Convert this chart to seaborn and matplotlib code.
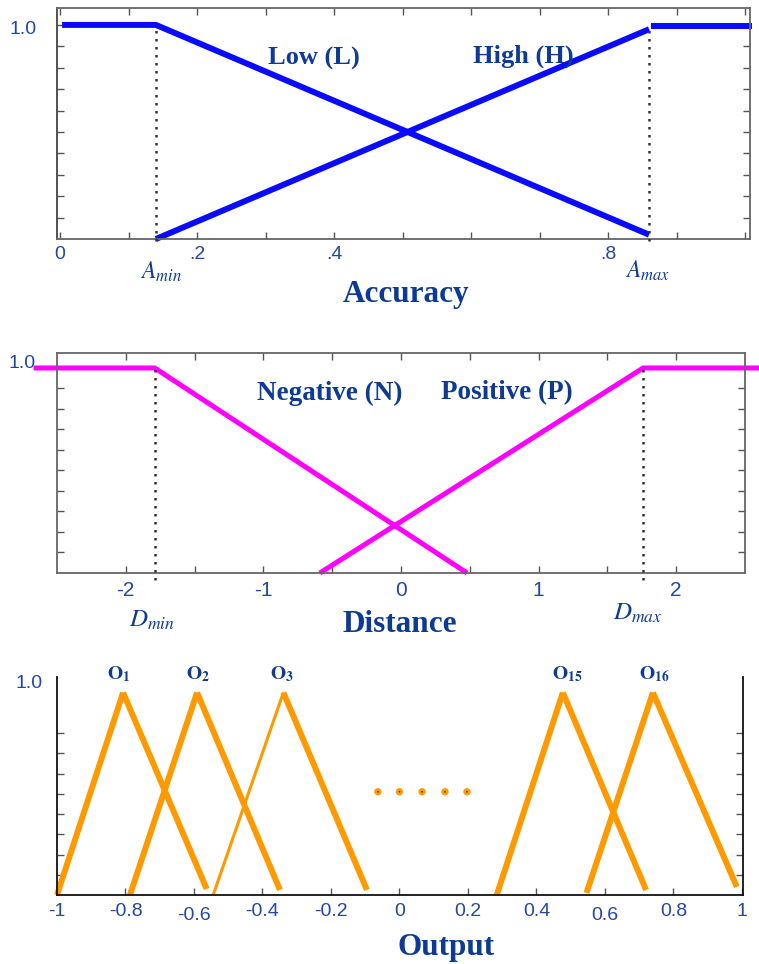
import matplotlib
matplotlib.use("Agg")
import matplotlib.pyplot as plt
import seaborn as sns

# ---------------- data ----------------
A_MIN, A_MAX = 0.14, 0.86
acc_low_x = [0.003, A_MIN, A_MAX]
acc_low_y = [1.0, 1.0, 0.02]
acc_high_x = [A_MIN, A_MAX]
acc_high_y = [0.0, 0.98]
acc_high_flat_x = [A_MAX + 0.003, 1.01]
acc_high_flat_y = [0.995, 0.995]
acc_ticks = [0.0, 0.1, 0.2, 0.3, 0.4, 0.5, 0.6, 0.7, 0.8, 0.9, 1.0]
acc_ticklabels = ["0", "", ".2", "", ".4", "", "", "", ".8", "", ""]

D_MIN, D_MAX = -1.79, 1.76
dist_neg_x = [-2.67, D_MIN, 0.48]
dist_neg_y = [1.0, 1.0, 0.0]
dist_pos_x = [-0.59, D_MAX, 2.62]
dist_pos_y = [0.0, 1.0, 1.0]
dist_ticks = [-2.0, -1.5, -1.0, -0.5, 0.0, 0.5, 1.0, 1.5, 2.0]
dist_ticklabels = ["-2", "", "-1", "", "0", "", "1", "", "2"]

out_names = ["1", "2", "3", "15", "16"]
out_left = [-1.0, -0.787, -0.544, 0.284, 0.546]
out_left_y = [0.0, 0.0, 0.0, 0.0, 0.01]
out_peak = [-0.807, -0.591, -0.339, 0.477, 0.74]
out_right = [-0.563, -0.349, -0.095, 0.72, 0.985]
out_right_y = [0.03, 0.025, 0.025, 0.025, 0.04]
dots_x = [-0.063, 0.0, 0.066, 0.133, 0.197]
dots_y = [0.51, 0.51, 0.51, 0.51, 0.51]
out_ticks = [-1.0, -0.8, -0.6, -0.4, -0.2, 0.0, 0.2, 0.4, 0.6, 0.8, 1.0]
out_ticklabels = ["-1", "-0.8", "-0.6", "-0.4", "-0.2", "0", "0.2", "0.4", "0.6", "0.8", "1"]

# ---------------- style ----------------
sns.set_theme(style="white")
plt.rcParams["font.family"] = ["Liberation Sans", "DejaVu Sans"]
plt.rcParams["mathtext.fontset"] = "stix"

BLUE = "#0a0aff"
MAGENTA = "#ff00ff"
ORANGE = "#ff9900"
TXT = "#0d3a94"
TICKTXT = "#2447a6"
W, H = 759, 964

fig = plt.figure(figsize=(W / 100, H / 100), dpi=100)


def fpos(x, y):
    return x / W, 1 - y / H


def style_axes(ax, spine_color="#666666", top=True):
    for s in ax.spines.values():
        s.set_color(spine_color)
        s.set_linewidth(1.3)
    ax.tick_params(axis="both", direction="in", length=5, width=1,
                   color="#555555", labelcolor=TICKTXT, labelsize=14,
                   top=top, right=True, left=True, bottom=True, pad=5)
    ax.set_xlabel("")
    ax.set_ylabel("")


bold = dict(family="Liberation Serif", fontweight="bold", color=TXT)
line_kw = dict(sort=False, estimator=None, clip_on=False,
               solid_capstyle="butt", solid_joinstyle="miter")

# ---------------- top: accuracy ----------------
ax1 = fig.add_axes([57 / W, 1 - 239 / H, 693 / W, 231 / H])
sns.lineplot(x=acc_low_x, y=acc_low_y, ax=ax1, color=BLUE, lw=4.3, **line_kw)
sns.lineplot(x=acc_high_x, y=acc_high_y, ax=ax1, color=BLUE, lw=4.3, **line_kw)
sns.lineplot(x=acc_high_flat_x, y=acc_high_flat_y, ax=ax1, color=BLUE, lw=4.3,
             **line_kw)
for xv in (A_MIN, A_MAX):
    ax1.plot([xv, xv], [-0.01, 1.0], color="#333333", lw=1.8,
             ls=(0, (1, 2.2)), clip_on=False, zorder=3)
ax1.set_xlim(-0.0044, 1.0073)
ax1.set_ylim(0, 1.079)
ax1.set_xticks(acc_ticks)
ax1.set_xticklabels(acc_ticklabels)
ax1.set_yticks([0.1 * i for i in range(1, 11)])
ax1.set_yticklabels([""] * 10)
style_axes(ax1)
ax1.spines["left"].set_color("#444444")

fig.text(*fpos(23, 30), "1.0", ha="center", va="center", fontsize=14, color=TICKTXT)
fig.text(*fpos(314, 65), "Low (L)", ha="center", va="baseline", fontsize=19, **bold)
fig.text(*fpos(523, 63), "High (H)", ha="center", va="baseline", fontsize=19, **bold)
fig.text(*fpos(161, 272), r"$A_{min}$", ha="center", va="center", fontsize=17, color=TXT)
fig.text(*fpos(648, 271), r"$A_{max}$", ha="center", va="center", fontsize=17, color=TXT)
fig.text(*fpos(406, 302), "Accuracy", ha="center", va="baseline", fontsize=22.5, **bold)

# ---------------- middle: distance ----------------
ax2 = fig.add_axes([57 / W, 1 - 573 / H, 688 / W, 220 / H])
sns.lineplot(x=dist_neg_x, y=dist_neg_y, ax=ax2, color=MAGENTA, lw=3.6, **line_kw)
sns.lineplot(x=dist_pos_x, y=dist_pos_y, ax=ax2, color=MAGENTA, lw=3.6, **line_kw)
for xv in (D_MIN, D_MAX):
    ax2.plot([xv, xv], [-0.035, 1.0], color="#333333", lw=1.8,
             ls=(0, (1, 2.2)), clip_on=False, zorder=3)
ax2.set_xlim(-2.5, 2.5)
ax2.set_ylim(0, 1.073)
ax2.set_xticks(dist_ticks)
ax2.set_xticklabels(dist_ticklabels)
ax2.set_yticks([0.1 * i for i in range(1, 10)])
ax2.set_yticklabels([""] * 9)
style_axes(ax2)
ax2.tick_params(axis="x", labelsize=15, pad=6)

fig.text(*fpos(22, 363), "1.0", ha="center", va="center", fontsize=14, color=TICKTXT)
fig.text(*fpos(330, 400), "Negative (N)", ha="center", va="baseline", fontsize=19.5, **bold)
fig.text(*fpos(507, 399), "Positive (P)", ha="center", va="baseline", fontsize=19.5, **bold)
fig.text(*fpos(152, 620), r"$D_{min}$", ha="center", va="center", fontsize=18, color=TXT)
fig.text(*fpos(638, 613), r"$D_{max}$", ha="center", va="center", fontsize=18, color=TXT)
fig.text(*fpos(400, 632), "Distance", ha="center", va="baseline", fontsize=22.5, **bold)

# ---------------- bottom: output ----------------
ax3 = fig.add_axes([57 / W, 1 - 895 / H, 686 / W, 218 / H])
for i in range(len(out_names)):
    lw_left = 2.2 if i == 2 else 4.3
    sns.lineplot(x=[out_left[i], out_peak[i]], y=[out_left_y[i], 1.0],
                 ax=ax3, color=ORANGE, lw=lw_left, **line_kw)
    sns.lineplot(x=[out_peak[i], out_right[i]], y=[1.0, out_right_y[i]],
                 ax=ax3, color=ORANGE, lw=4.3, **line_kw)
sns.scatterplot(x=dots_x, y=dots_y, ax=ax3, color=ORANGE, s=28,
                edgecolor="none", zorder=4)
sns.scatterplot(x=dots_x, y=dots_y, ax=ax3, color="#333333", s=1.5,
                edgecolor="none", zorder=5)
ax3.set_xlim(-1.0, 1.003)
ax3.set_ylim(0, 1.077)
ax3.set_xticks(out_ticks)
ax3.set_xticklabels(out_ticklabels)
ax3.set_yticks([0.1 * i for i in range(1, 9)])
ax3.set_yticklabels([""] * 8)
style_axes(ax3, spine_color="#111111", top=False)
ax3.spines["top"].set_visible(False)
ax3.tick_params(axis="x", pad=6)
for lbl in ax3.get_xticklabels():
    if lbl.get_text() in ("-0.6", "0.6"):
        lbl.set_y(-0.018)

fig.text(*fpos(29, 683), "1.0", ha="center", va="center", fontsize=14, color=TICKTXT)
label_px = [119, 198, 282, 567, 654]
for name, px in zip(out_names, label_px):
    fig.text(*fpos(px, 674), r"$\mathbf{O}_{\mathbf{%s}}$" % name, ha="center",
             va="center", fontsize=14, color=TXT)
fig.text(*fpos(446, 955), "Output", ha="center", va="baseline", fontsize=22.5, **bold)

fig.savefig("out.png", dpi=100)
